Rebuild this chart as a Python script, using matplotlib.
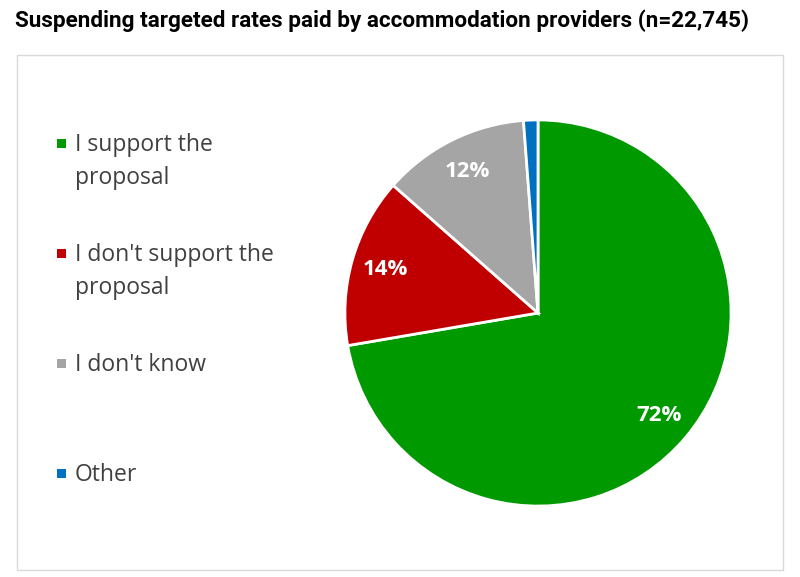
import matplotlib.pyplot as plt
from matplotlib.patches import Rectangle

# data
labels = ["I support the\nproposal", "I don't support the\nproposal", "I don't know", "Other"]
values = [72.3, 14.2, 12.3, 1.2]
colors = ["#009900", "#C00000", "#A5A5A5", "#0070C0"]
title = "Suspending targeted rates paid by accommodation providers (n=22,745)"

W, H = 800, 577
fig = plt.figure(figsize=(W / 100, H / 100), dpi=100)

# outer frame of the chart area
fig.patches.append(Rectangle((17 / W, 1 - 570 / H), 766 / W, 515 / H,
                             transform=fig.transFigure, fill=False,
                             edgecolor="#d9d9d9", linewidth=1))

t = fig.text(15 / W, 1 - 21 / H, title, fontsize=15, fontweight="bold",
             family=["Roboto", "DejaVu Sans"], va="center", ha="left", color="black")
# shrink title so it spans the same width as the reference (~735px)
rend = fig.canvas.get_renderer()
w = t.get_window_extent(rend).width
t.set_fontsize(15 * 735 / w)

# pie
cx, cy, r = 538, 313, 195
ax = fig.add_axes([(cx - r) / W, (H - cy - r) / H, 2 * r / W, 2 * r / H])


def pct(p):
    return f"{p:.0f}%" if p > 5 else ""


wedges, texts, autotexts = ax.pie(values, colors=colors, startangle=90, counterclock=False,
                                  autopct=pct, pctdistance=0.82,
                                  wedgeprops=dict(edgecolor="white", linewidth=2))
for a in autotexts:
    a.set_color("white")
    a.set_fontsize(16)
    a.set_fontweight("bold")
    a.set_family(["Open Sans", "DejaVu Sans"])
ax.set_xlim(-1.01, 1.01)
ax.set_ylim(-1.01, 1.01)
ax.axis("off")

# legend drawn by hand to match the spacing
ys = [143, 253, 363, 473]
for lab, col, y in zip(labels, colors, ys):
    fig.patches.append(Rectangle((57 / W, 1 - (y + 5) / H), 9 / W, 9 / H,
                                 transform=fig.transFigure, facecolor=col, edgecolor="none"))
    fig.text(75 / W, 1 - (y - 10) / H, lab, fontsize=16.5, color="#404040",
             family=["Open Sans", "DejaVu Sans"], va="top", ha="left", linespacing=1.5)

fig.savefig("out.png", dpi=100)
